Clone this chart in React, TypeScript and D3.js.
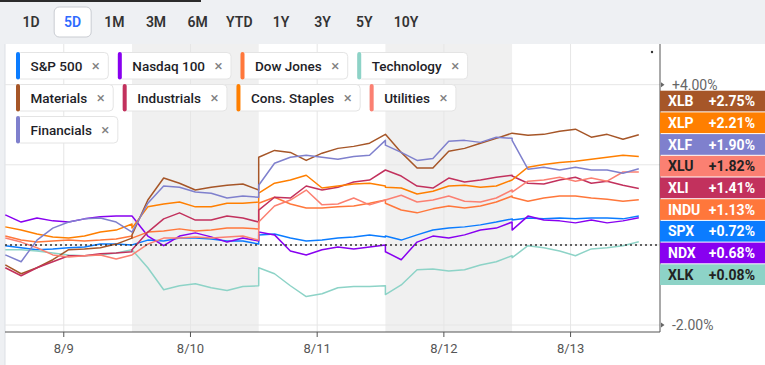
import React, { useMemo } from "react";
import * as d3 from "d3";

const W = 765;
const H = 365;

const rangeButtons = ["1D", "5D", "1M", "3M", "6M", "YTD", "1Y", "3Y", "5Y", "10Y"];
const activeRange = "5D";
const dayLabels = ["8/9", "8/10", "8/11", "8/12", "8/13"];
const shadedDays = ["8/10", "8/12"];
const yGridTicks = [4, 2, 0, -2];
const yLabelTicks = [4, -2]; // the others sit under the value badges

const legendNames = ["S&P 500", "Nasdaq 100", "Dow Jones", "Technology", "Materials", "Industrials", "Cons. Staples", "Utilities", "Financials"];
const tickers = ["SPX", "NDX", "INDU", "XLK", "XLB", "XLI", "XLP", "XLU", "XLF"];
const lastChange = [0.72, 0.68, 1.13, 0.08, 2.75, 1.41, 2.21, 1.82, 1.9];

// % change, 9 samples per session (open -> close), 5 sessions
const spx = [
  -0.02, -0.07, -0.12, -0.1, -0.07, -0.05, 0.02, 0.02, 0.0,
  0.0, 0.12, 0.1, 0.17, 0.17, 0.15, 0.1, 0.1, 0.02,
  0.25, 0.27, 0.17, 0.1, 0.12, 0.17, 0.2, 0.25, 0.2,
  0.22, 0.12, 0.25, 0.37, 0.42, 0.45, 0.5, 0.57, 0.65,
  0.62, 0.67, 0.65, 0.67, 0.65, 0.67, 0.67, 0.65, 0.72,
];
const ndx = [
  0.75, 0.57, 0.67, 0.6, 0.57, 0.65, 0.7, 0.72, 0.72,
  0.72, 0.22, -0.02, 0.22, 0.3, 0.2, 0.07, 0.17, 0.1,
  0.32, 0.25, -0.15, -0.25, -0.12, -0.05, -0.1, -0.05, 0.0,
  -0.17, -0.37, 0.07, 0.22, 0.17, 0.25, 0.37, 0.42, 0.57,
  0.37, 0.72, 0.62, 0.6, 0.55, 0.62, 0.55, 0.6, 0.68,
];
const indu = [
  0.22, 0.12, 0.07, 0.1, 0.12, 0.1, 0.12, 0.15, 0.22,
  0.17, 0.32, 0.35, 0.4, 0.35, 0.37, 0.42, 0.42, 0.4,
  1.04, 1.19, 1.02, 0.92, 0.92, 0.95, 0.97, 1.04, 1.12,
  1.04, 0.87, 0.8, 0.9, 0.97, 0.92, 0.97, 1.07, 1.22,
  1.19, 1.09, 1.17, 1.22, 1.22, 1.17, 1.14, 1.09, 1.13,
];
const xlk = [
  -0.12, -0.12, -0.15, -0.2, -0.25, -0.27, -0.25, -0.2, -0.12,
  -0.12, -0.57, -1.12, -1.02, -0.97, -1.07, -1.14, -1.04, -1.02,
  -0.57, -0.72, -1.02, -1.29, -1.22, -1.07, -1.04, -1.04, -1.02,
  -1.24, -1.0, -0.62, -0.6, -0.65, -0.62, -0.5, -0.42, -0.27,
  -0.32, -0.02, -0.07, -0.15, -0.27, -0.1, -0.07, -0.02, 0.08,
];
const xlb = [
  -0.5, -0.72, -0.57, -0.37, -0.12, -0.1, -0.07, 0.02, 0.17,
  0.25, 1.12, 1.67, 1.54, 1.37, 1.44, 1.49, 1.52, 1.37,
  2.19, 2.36, 2.31, 2.11, 2.29, 2.41, 2.46, 2.54, 2.76,
  2.76, 2.31, 1.92, 1.92, 2.34, 2.41, 2.54, 2.66, 2.79,
  2.79, 2.74, 2.76, 2.84, 2.89, 2.69, 2.76, 2.64, 2.75,
];
const xli = [
  -0.57, -0.77, -0.57, -0.42, -0.27, -0.27, -0.22, -0.2, -0.17,
  -0.12, 0.32, 0.65, 0.8, 0.62, 0.62, 0.72, 0.67, 0.57,
  0.87, 1.19, 1.17, 1.47, 1.37, 1.44, 1.57, 1.62, 1.87,
  1.87, 1.72, 1.47, 1.42, 1.67, 1.57, 1.62, 1.69, 1.74,
  1.72, 1.54, 1.52, 1.62, 1.69, 1.54, 1.59, 1.49, 1.41,
];
const xlp = [
  0.45, 0.37, 0.27, 0.2, 0.17, 0.22, 0.32, 0.37, 0.52,
  0.42, 0.95, 1.02, 1.07, 0.95, 0.95, 1.04, 1.04, 1.07,
  1.29, 1.54, 1.62, 1.74, 1.42, 1.47, 1.52, 1.54, 1.47,
  1.44, 1.42, 1.27, 1.34, 1.47, 1.49, 1.44, 1.47, 1.62,
  1.62, 1.94, 2.01, 2.06, 2.09, 2.14, 2.19, 2.24, 2.21,
];
const xlu = [
  0.17, 0.07, -0.07, -0.25, -0.3, -0.27, -0.25, -0.35, -0.25,
  -0.25, 0.02, 0.17, 0.17, 0.2, 0.17, 0.2, 0.22, 0.12,
  0.57, 0.97, 1.12, 1.37, 1.0, 1.02, 1.17, 1.0, 1.12,
  1.12, 1.24, 1.07, 1.12, 1.22, 1.09, 1.07, 1.17, 1.37,
  1.32, 1.59, 1.62, 1.69, 1.59, 1.67, 1.59, 1.82, 1.82,
];
const xlf = [
  -0.25, -0.42, 0.12, 0.42, 0.57, 0.65, 0.67, 0.57, 0.32,
  0.32, 1.04, 1.47, 1.44, 1.32, 1.29, 1.17, 1.22, 1.19,
  1.49, 2.04, 2.19, 2.24, 2.19, 2.14, 2.21, 2.24, 2.61,
  2.49, 2.31, 2.11, 2.16, 2.59, 2.61, 2.56, 2.69, 2.66,
  2.61, 1.89, 1.94, 1.87, 1.94, 1.87, 1.87, 1.79, 1.9,
];

const seriesValues: Record<string, number[]> = { SPX: spx, NDX: ndx, INDU: indu, XLK: xlk, XLB: xlb, XLI: xli, XLP: xlp, XLU: xlu, XLF: xlf };

const colors: Record<string, string> = {
  SPX: "#0b7cff",
  NDX: "#8800f0",
  INDU: "#ff773b",
  XLK: "#8dd3c7",
  XLB: "#a65628",
  XLI: "#c2315d",
  XLP: "#ff7f00",
  XLU: "#fb8072",
  XLF: "#7f80cd",
};
const darkBadgeText = ["XLU", "XLK"];

const FONT = "Roboto, 'Noto Sans', sans-serif";
const LEGEND_FONT = `500 13.5px ${FONT}`;
const STEPS = 8; // samples per session minus one
const TICK_POS = 0.4615; // 12:30 within a 9:30-16:00 session

const plot = { left: 5, right: 660, top: 44, bottom: 332 };

function measure(text: string, font: string) {
  const c = document.createElement("canvas").getContext("2d");
  if (!c) return text.length * 7;
  c.font = font;
  return c.measureText(text).width;
}

export default function App() {
  const x = d3.scaleLinear().domain([0, dayLabels.length]).range([5.3, 638.8]);
  const y = d3.scaleLinear().domain([-2, 4]).range([325, 84.7]);

  const line = d3
    .line<number>()
    .x((_, i) => x(Math.floor(i / (STEPS + 1)) + (i % (STEPS + 1)) / STEPS))
    .y((v) => y(v));

  const buttonX = d3.scalePoint<string>().domain(rangeButtons).range([31, 406]);

  // legend chips flow left to right, wrapping
  const chips = useMemo(() => {
    const out: { name: string; ticker: string; x: number; y: number; w: number }[] = [];
    let cx = 16;
    let cy = 52;
    legendNames.forEach((name, i) => {
      const w = measure(name, LEGEND_FONT) + 40;
      if (cx + w > 520) {
        cx = 16;
        cy += 32;
      }
      out.push({ name, ticker: tickers[i], x: cx, y: cy, w });
      cx += w + 10;
    });
    return out;
  }, []);

  const badgeOrder = d3.range(tickers.length).sort((a, b) => lastChange[b] - lastChange[a]);
  const fmt = (v: number) => (v >= 0 ? "+" : "") + v.toFixed(2) + "%";

  return (
    <div style={{ position: "fixed", left: 0, top: 0 }}>
      <svg width={W} height={H} style={{ display: "block", fontFamily: FONT }}>
        {/* page chrome */}
        <rect x={0} y={0} width={W} height={H} fill="#eef0f3" />
        <rect x={0} y={0} width={201} height={2} fill="#2b2b2b" />
        <rect x={5} y={plot.top} width={W - 5} height={H - plot.top} fill="#fff" />
        <line x1={5} x2={5} y1={plot.top} y2={H} stroke="#dde0e5" />

        {/* range buttons */}
        {rangeButtons.map((b) => {
          const bx = buttonX(b) as number;
          const active = b === activeRange;
          return (
            <g key={b}>
              {active && (
                <rect x={bx - 18.5} y={7} width={37} height={30} rx={5} fill="#fff" stroke="#c9ccd2" />
              )}
              <text x={bx} y={26.5} textAnchor="middle" fontSize={14} fontWeight={600} fill={active ? "#2f6bff" : "#333"}>
                {b}
              </text>
            </g>
          );
        })}

        {/* shaded sessions */}
        {shadedDays.map((d) => {
          const i = dayLabels.indexOf(d);
          return (
            <rect key={d} x={x(i)} y={plot.top} width={x(i + 1) - x(i)} height={plot.bottom - plot.top} fill="#f0f0f0" />
          );
        })}

        {/* grid */}
        {dayLabels.map((d, i) => (
          <line key={d} x1={x(i + TICK_POS)} x2={x(i + TICK_POS)} y1={plot.top} y2={plot.bottom} stroke="#e6e6e6" />
        ))}
        {yGridTicks.map((t) => (
          <line key={t} x1={plot.left} x2={plot.right} y1={y(t)} y2={y(t)} stroke="#e6e6e6" />
        ))}

        {/* series */}
        {tickers.map((t) => (
          <path key={t} d={line(seriesValues[t]) || ""} fill="none" stroke={colors[t]} strokeWidth={1.5} strokeLinejoin="round" />
        ))}

        {/* zero reference */}
        <line x1={plot.left} x2={705} y1={y(0)} y2={y(0)} stroke="#333" strokeWidth={1.5} strokeDasharray="2,3" />

        {/* axes */}
        <line x1={plot.right} x2={plot.right} y1={plot.top} y2={plot.bottom} stroke="#555" />
        <line x1={plot.left} x2={plot.right} y1={plot.bottom} y2={plot.bottom} stroke="#555" />
        {dayLabels.map((d, i) => (
          <g key={d} transform={`translate(${x(i + TICK_POS)},${plot.bottom})`}>
            <line y1={0} y2={5} stroke="#555" />
            <text y={21} textAnchor="middle" fontSize={13} fill="#555">
              {d}
            </text>
          </g>
        ))}
        {yLabelTicks.map((t) => (
          <g key={t} transform={`translate(${plot.right},${y(t)})`}>
            <path d="M1,-2.5L4.5,0L1,2.5Z" fill="#666" />
            <text x={12} y={5} fontSize={14} fill="#666">
              {fmt(t)}
            </text>
          </g>
        ))}
        <circle cx={652} cy={52} r={1.2} fill="#333" />

        {/* last value badges */}
        {badgeOrder.map((idx, k) => {
          const t = tickers[idx];
          const by = 90.7 + k * 21.7;
          const tc = darkBadgeText.includes(t) ? "#222" : "#fff";
          return (
            <g key={t}>
              <rect x={plot.right} y={by} width={W - plot.right} height={20.7} fill={colors[t]} />
              <text x={668} y={by + 15.5} fontSize={14} fontWeight={700} fill={tc}>
                {t}
              </text>
              <text x={755} y={by + 15.5} fontSize={14} fontWeight={700} fill={tc} textAnchor="end">
                {fmt(lastChange[idx])}
              </text>
            </g>
          );
        })}

        {/* legend chips */}
        {chips.map((c) => (
          <g key={c.name} transform={`translate(${c.x},${c.y})`}>
            <rect x={0.5} y={0.5} width={c.w} height={26.5} rx={4} fill="#fff" stroke="#e4e4e4" />
            <rect x={0} y={0} width={4} height={27.5} rx={2} fill={colors[c.ticker]} />
            <text x={14.5} y={18.5} fontSize={13.5} fontWeight={500} fill="#1e1e28">
              {c.name}
            </text>
            <text x={c.w - 12} y={18.5} fontSize={15} fill="#808080" textAnchor="middle">
              ×
            </text>
          </g>
        ))}
      </svg>
    </div>
  );
}
